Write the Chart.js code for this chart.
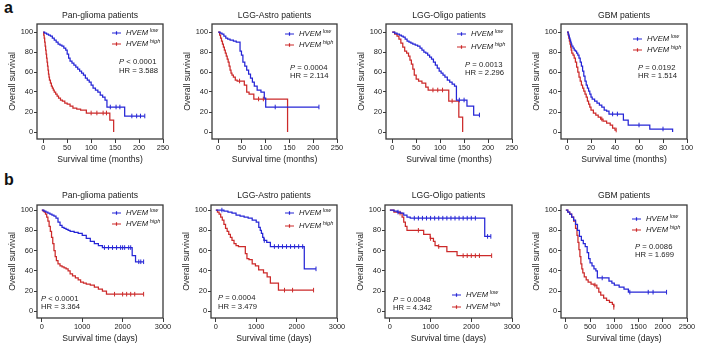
<!DOCTYPE html>
<html>
<head>
<meta charset="utf-8">
<script src="https://cdn.jsdelivr.net/npm/chart.js@4.4.1/dist/chart.umd.min.js"></script>
<style>
  html, body { margin: 0; padding: 0; background: #fff; }
  #fig { position: relative; width: 710px; height: 347px; overflow: hidden; background: #fff; }
  .tag { position: absolute; font: bold 16px 'Liberation Sans', Arial, sans-serif; color: #111; }
</style>
</head>
<body>
<div id="fig">
  <div class="tag" style="left:4px;top:-1px">a</div>
  <div class="tag" style="left:4px;top:171px">b</div>
</div>
<script>
// ---- labels and ticks ----
const titles = ['Pan-glioma patients', 'LGG-Astro patients', 'LGG-Oligo patients', 'GBM patients',
                'Pan-glioma patients', 'LGG-Astro patients', 'LGG-Oligo patients', 'GBM patients'];
const pTexts = ['< 0.0001', '= 0.0004', '= 0.0013', '= 0.0192', '< 0.0001', '= 0.0004', '= 0.0048', '= 0.0086'];
const hrTexts = ['3.588', '2.114', '2.296', '1.514', '3.364', '3.479', '4.342', '1.699'];
const yTicks = [0, 20, 40, 60, 80, 100];
const monthTicks250 = [0, 50, 100, 150, 200, 250];
const monthTicks100 = [0, 20, 40, 60, 80, 100];
const dayTicks3000 = [0, 1000, 2000, 3000];
const dayTicks2500 = [0, 500, 1000, 1500, 2000, 2500];

// ---- survival curves: event times, survival (%) after each event, censored times ----
// Pan-glioma (months)
const panMoLowT = [3,7,11,15,19,23,27,31,35,39,43,47,50,53,56,60,64,68,72,76,80,84,88,92,96,100,104,109,114,119,124,129,133,170];
const panMoLowS = [99,98,97,96,94,92,90,88,87,86,84,82,78,74,71,69,67,65,63,61,59,57,54,52,50,47,44,42,40,37,35,32,25,16];
const panMoLowC = [140,152,160,185,195,203,212];
const panMoHighT = [1,2,3,4,5,6,7,8,9,10,11,12,13,15,17,19,21,23,26,29,32,36,40,45,50,56,62,70,78,90,139,147];
const panMoHighS = [97,94,90,86,82,78,74,70,66,62,58,55,52,49,46,44,42,40,38,36,34,32,31,29,28,26,24,23,22,19,12,0];
const panMoHighC = [100,112,125,132];
// LGG-Astro (months)
const astMoLowT = [4,8,12,16,20,25,32,38,46,49,52,56,60,64,68,72,76,82,90,97,100];
const astMoLowS = [99,98,96,94,93,92,91,90,81,77,70,66,62,58,54,50,46,42,40,34,25];
const astMoLowC = [120,212];
const astMoHighT = [3,5,7,9,11,13,15,17,19,21,23,25,27,29,32,36,40,55,60,65,75,146];
const astMoHighS = [97,94,91,88,85,82,79,76,73,70,66,62,59,57,55,52,51,47,40,38,33,0];
const astMoHighC = [45,85,95];
// LGG-Oligo (months)
const oliMoLowT = [5,10,15,19,23,27,31,35,39,43,48,53,58,62,66,70,74,78,82,86,90,94,98,102,106,110,115,120,125,130,134,156,170];
const oliMoLowS = [99,98,97,96,95,93,91,90,89,88,87,86,84,82,80,79,77,75,73,70,67,64,61,59,57,55,52,50,48,46,32,26,17];
const oliMoLowC = [140,150,182];
const oliMoHighT = [5,10,14,18,22,26,30,34,37,40,43,46,50,55,62,70,75,118,139,147];
const oliMoHighS = [98,96,93,89,85,81,79,76,72,68,63,57,53,51,49,45,42,31,15,0];
const oliMoHighC = [85,95,105,125];
// GBM (months)
const gbmMoLowT = [1,1.5,2,2.5,3,3.5,4,5,6,7,8,9,10,11,12,13,14,15,16,17,18,19,20,21,23,25,27,29,31,33,35,47,51,69,88];
const gbmMoLowS = [98,96,94,92,90,88,86,84,82,81,79,77,74,70,66,61,56,51,47,44,41,38,35,33,31,29,27,25,22,21,18,12,7,3,0];
const gbmMoLowC = [38,42,60,80];
const gbmMoHighT = [1,1.5,2,2.5,3,3.5,4,5,6,7,8,9,10,11,12,13,14,15,16,17,18,19,20,22,24,26,28,30,33,36,38,40];
const gbmMoHighS = [97,94,91,88,85,82,79,77,74,70,65,60,55,51,47,44,41,38,35,31,28,25,22,19,17,15,13,11,9,7,4,2];
const gbmMoHighC = [29,41];
// Pan-glioma (days)
const panDayLowT = [50,100,150,200,250,300,350,400,450,500,550,600,650,700,800,900,1000,1100,1200,1300,1400,1500,2237,2320];
const panDayLowS = [99,98,97,96,95,94,92,88,85,83,82,81,80,79,78,77,75,72,69,67,65,63,55,49];
const panDayLowC = [1550,1650,1750,1850,1950,2000,2050,2150,2200,2400,2450,2520];
const panDayHighT = [30,60,90,120,150,180,210,240,270,300,330,360,400,450,500,550,600,650,700,760,830,900,960,1030,1100,1200,1300,1400,1500,1600];
const panDayHighS = [99,98,96,93,89,84,79,73,67,60,54,50,47,45,44,43,42,40,37,35,33,31,29,28,27,26,24,22,20,17];
const panDayHighC = [1800,2000,2100,2200,2300,2520];
// LGG-Astro (days)
const astDayLowT = [200,300,400,500,600,700,800,900,1000,1063,1100,1128,1160,1190,1260,1350,2190];
const astDayLowS = [99,98,97,95,94,93,92,90,88,83,80,77,73,70,68,64,42];
const astDayLowC = [150,1200,1450,1550,1650,1750,1850,1950,2050,2150,2480];
const astDayHighT = [40,80,120,160,200,240,280,320,360,400,450,500,560,730,770,820,900,980,1060,1180,1270,1350,1550];
const astDayHighS = [98,96,93,90,86,82,79,76,73,70,67,65,64,57,52,51,47,45,41,38,34,28,21];
const astDayHighC = [1700,1900,2420];
// LGG-Oligo (days)
const oliDayLowT = [100,180,260,340,420,500,2330];
const oliDayLowS = [99,98,97,95,93,92,74];
const oliDayLowC = [200,600,700,800,900,1000,1100,1200,1300,1400,1500,1600,1700,1800,1900,2000,2100,2400,2480];
const oliDayHighT = [100,220,300,340,380,420,830,990,1070,1110,1190,1400,1650];
const oliDayHighS = [98,97,93,88,84,80,76,72,69,65,64,59,55];
const oliDayHighC = [250,700,1000,1200,1800,1900,2000,2100,2200,2500];
// GBM (days)
const gbmDayLowT = [40,80,120,160,200,240,280,320,360,400,440,470,500,540,580,620,650,890,950,1000,1100,1200,1290];
const gbmDayLowS = [98,96,93,90,86,80,74,70,67,64,58,52,48,45,42,40,33,30,28,26,24,22,19];
const gbmDayLowC = [750,1320,1700,1800,2078];
const gbmDayHighT = [40,80,120,160,200,230,250,270,290,310,330,350,380,420,460,520,580,640,680,720,780,840,900,960,990];
const gbmDayHighS = [98,96,93,89,82,75,68,61,54,47,42,38,34,31,29,27,26,23,19,16,13,11,9,7,4];
const gbmDayHighC = [600,990];

// ---- drawing ----
const FONT = "'Liberation Sans', Arial, Helvetica, sans-serif";
const BLUE = '#2626d6', RED = '#cc2a2a', INK = '#1c1c1c', FRAME = '#3a3a3a';

// Step points for one Kaplan-Meier curve; censored times carry a flag for the tick marks.
function kmPoints(times, surv, cens) {
  const pts = [{x: 0, y: 100}];
  times.forEach((t, i) => pts.push({x: t, y: surv[i]}));
  cens.forEach(c => {
    let s = 100;
    times.forEach((t, i) => { if (t <= c) s = surv[i]; });
    pts.push({x: c, y: s, c: true});
  });
  return pts.sort((a, b) => a.x - b.x);
}

const MONTHS = 'Survival time (months)', DAYS = 'Survival time (days)';
const panels = [
  {box:[0,0,178,172],    area:[37,24,163,139],   x:[-13,250],  y:[-7,108],  xt:monthTicks250, xl:MONTHS,
   low:[panMoLowT,panMoLowS,panMoLowC], high:[panMoHighT,panMoHighS,panMoHighC], leg:[112,33,44], stat:[119,62,71], tOff:8},
  {box:[175,0,178,172],  area:[212,24,337,139],  x:[-13,250],  y:[-7,108],  xt:monthTicks250, xl:MONTHS,
   low:[astMoLowT,astMoLowS,astMoLowC], high:[astMoHighT,astMoHighS,astMoHighC], leg:[285,34,45], stat:[290,68,76], tOff:8},
  {box:[350,0,178,172],  area:[386,24,512,139],  x:[-13,250],  y:[-7,108],  xt:monthTicks250, xl:MONTHS,
   low:[oliMoLowT,oliMoLowS,oliMoLowC], high:[oliMoHighT,oliMoHighS,oliMoHighC], leg:[457,34,47], stat:[465,65,73], tOff:8},
  {box:[525,0,185,172],  area:[561,24,687,139],  x:[-5,100],   y:[-7,108],  xt:monthTicks100, xl:MONTHS,
   low:[gbmMoLowT,gbmMoLowS,gbmMoLowC], high:[gbmMoHighT,gbmMoHighS,gbmMoHighC], leg:[633,39,50], stat:[638,68,76], tOff:8},
  {box:[0,172,178,175],  area:[37,205,163,318],  x:[-120,3000], y:[-6.5,105], xt:dayTicks3000, xl:DAYS,
   low:[panDayLowT,panDayLowS,panDayLowC], high:[panDayHighT,panDayHighS,panDayHighC], leg:[112,213,224], stat:[41,299,307], tOff:9},
  {box:[175,172,178,175],area:[211,205,337,318], x:[-120,3000], y:[-6.5,105], xt:dayTicks3000, xl:DAYS,
   low:[astDayLowT,astDayLowS,astDayLowC], high:[astDayHighT,astDayHighS,astDayHighC], leg:[285,213,226], stat:[218,298,307], tOff:9},
  {box:[350,172,178,175],area:[385,205,512,318], x:[-120,3000], y:[-6.5,105], xt:dayTicks3000, xl:DAYS,
   low:[oliDayLowT,oliDayLowS,oliDayLowC], high:[oliDayHighT,oliDayHighS,oliDayHighC], leg:[452,295,307], stat:[393,300,308], tOff:9},
  {box:[525,172,185,175],area:[561,205,687,318], x:[-100,2500], y:[-6.5,105], xt:dayTicks2500, xl:DAYS,
   low:[gbmDayLowT,gbmDayLowS,gbmDayLowC], high:[gbmDayHighT,gbmDayHighS,gbmDayHighC], leg:[632,219,230], stat:[635,247,255], tOff:9}
];

function curve(series, color) {
  return {
    data: kmPoints(series[0], series[1], series[2]),
    stepped: 'before',
    borderColor: color,
    backgroundColor: color,
    borderWidth: 1.25,
    fill: false,
    pointStyle: 'line',
    pointRotation: 90,
    pointRadius: c => (c.raw && c.raw.c ? 2.3 : 0),
    pointHoverRadius: 0,
    pointBorderWidth: 1,
    pointBorderColor: color
  };
}

function legendItem(ctx, x0, y, color, sup) {
  ctx.strokeStyle = color; ctx.lineWidth = 1.2;
  ctx.beginPath();
  ctx.moveTo(x0, y); ctx.lineTo(x0 + 9, y);
  ctx.moveTo(x0 + 4.5, y - 1.8); ctx.lineTo(x0 + 4.5, y + 1.8);
  ctx.stroke();
  ctx.fillStyle = INK; ctx.textAlign = 'left'; ctx.textBaseline = 'middle';
  ctx.font = `italic 7.7px ${FONT}`;
  ctx.fillText('HVEM', x0 + 14, y);
  const w = ctx.measureText('HVEM').width;
  ctx.font = `italic 5.6px ${FONT}`;
  ctx.fillText(sup, x0 + 14 + w + 1.5, y - 3);
}

function makeChart(p, i) {
  const [cl, ct, cw, ch] = p.box;
  const [L, T, R, B] = p.area;
  const cv = document.createElement('canvas');
  cv.width = cw; cv.height = ch;
  cv.style.cssText = `position:absolute;left:${cl}px;top:${ct}px;`;
  document.getElementById('fig').appendChild(cv);
  const YW = 32, XH = 26;
  const pad = {left: L - cl - YW, top: T - ct, right: cl + cw - R, bottom: ct + ch - B - XH};

  const decor = {
    id: 'decor' + i,
    afterDatasetsDraw(chart) {
      const {ctx, chartArea: a} = chart;
      ctx.save();
      ctx.strokeStyle = FRAME; ctx.lineWidth = 1.3;
      ctx.strokeRect(a.left, a.top, a.right - a.left, a.bottom - a.top);
      ctx.fillStyle = INK; ctx.textAlign = 'center'; ctx.textBaseline = 'middle';
      ctx.font = `8.6px ${FONT}`;
      ctx.fillText(titles[i], (a.left + a.right) / 2, a.top - p.tOff);
      legendItem(ctx, p.leg[0] - cl, p.leg[1] - ct, BLUE, 'low');
      legendItem(ctx, p.leg[0] - cl, p.leg[2] - ct, RED, 'high');
      const sx = p.stat[0] - cl;
      ctx.fillStyle = INK; ctx.textAlign = 'left'; ctx.textBaseline = 'middle';
      ctx.font = `italic 7.7px ${FONT}`;
      ctx.fillText('P', sx, p.stat[1] - ct);
      const pw = ctx.measureText('P').width;
      ctx.font = `7.7px ${FONT}`;
      ctx.fillText(' ' + pTexts[i], sx + pw, p.stat[1] - ct);
      ctx.fillText('HR = ' + hrTexts[i], sx, p.stat[2] - ct);
      ctx.restore();
    }
  };

  new Chart(cv, {
    type: 'line',
    data: {datasets: [curve(p.low, BLUE), curve(p.high, RED)]},
    options: {
      responsive: false, animation: false, devicePixelRatio: 1,
      events: [],
      layout: {padding: pad},
      plugins: {legend: {display: false}, tooltip: {enabled: false}, title: {display: false}},
      scales: {
        x: {
          type: 'linear', min: p.x[0], max: p.x[1],
          afterBuildTicks: s => { s.ticks = p.xt.map(v => ({value: v})); },
          afterFit: s => { s.height = XH; },
          grid: {drawOnChartArea: false, drawTicks: true, tickLength: 4, color: FRAME, lineWidth: 1},
          border: {display: false},
          ticks: {font: {size: 7.4, family: FONT, lineHeight: 1}, color: INK, padding: 1,
                  autoSkip: false, maxRotation: 0, callback: v => String(v)},
          title: {display: true, text: p.xl, font: {size: 8.6, family: FONT}, color: INK, padding: 0}
        },
        y: {
          type: 'linear', min: p.y[0], max: p.y[1],
          afterBuildTicks: s => { s.ticks = yTicks.map(v => ({value: v})); },
          afterFit: s => { s.width = YW; },
          grid: {drawOnChartArea: false, drawTicks: true, tickLength: 3, color: FRAME, lineWidth: 1},
          border: {display: false},
          ticks: {font: {size: 7.4, family: FONT}, color: INK, padding: 1, callback: v => String(v)},
          title: {display: true, text: 'Overall survival', font: {size: 8.6, family: FONT}, color: INK,
                  padding: {top: 2, bottom: 0}}
        }
      }
    },
    plugins: [decor]
  });
}

panels.forEach(makeChart);
</script>
</body>
</html>
